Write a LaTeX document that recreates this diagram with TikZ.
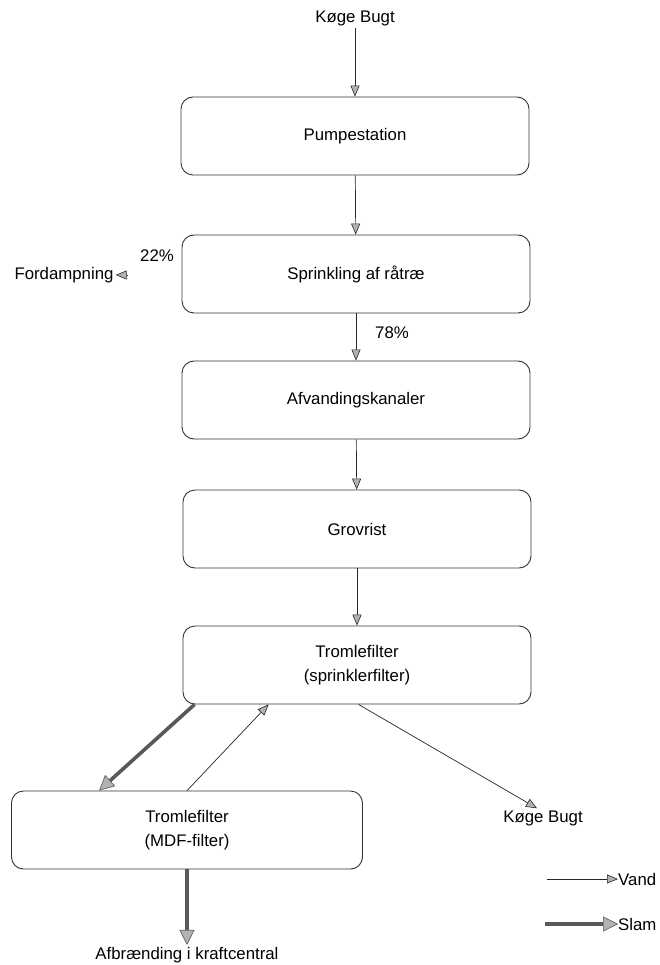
\documentclass[tikz,border=0pt]{standalone}
\usepackage{fontspec}
\setmainfont{Liberation Sans}
\usetikzlibrary{arrows.meta}
\begin{document}
\begin{tikzpicture}[x=1pt,y=-1pt,
  stage/.style={draw=black!80, line width=0.9pt, rounded corners=12pt,
    minimum width=348pt, minimum height=78pt, align=center,
    font=\fontsize{16.8}{24}\selectfont},
  lbl/.style={inner sep=2pt, font=\fontsize{16.8}{19}\selectfont},
  water/.style={draw=black!85, line width=0.7pt,
    -{Triangle[length=11pt,width=9pt,fill=gray!60,line width=0.6pt]}},
  sludge/.style={draw=black!65, line width=3.6pt,
    -{Triangle[length=15pt,width=15pt,fill=gray!60,line width=0.6pt]}}]
\useasboundingbox (0,0) rectangle (660,965);

% process stages
\node[stage] (pump)   at (355,136) {Pumpestation};
\node[stage] (spr)    at (356,274) {Sprinkling af råtræ};
\node[stage] (afv)    at (356,400) {Afvandingskanaler};
\node[stage] (grov)   at (357,529) {Grovrist};
\node[stage] (trom)   at (357,665) {Tromlefilter\\(sprinklerfilter)};
\node[stage, minimum width=351pt] (mdf) at (187,830) {Tromlefilter\\(MDF-filter)};

% sources and sinks
\node[lbl] (kogein)  at (355,18)  {Køge Bugt};
\node[lbl] (kogeout) at (543,818) {Køge Bugt};
\node[lbl] (ford)    at (64,275)  {Fordampning};
\node[lbl] (afb)     at (187,955) {Afbrænding i kraftcentral};
\node[lbl] at (157,256) {22\%};
\node[lbl] at (392,333) {78\%};

% water flow
\draw[water] (kogein) -- (pump);
\draw[water] (pump) -- (spr);
\draw[water] (spr) -- (afv);
\draw[water] (afv) -- (grov);
\draw[water] (grov) -- (trom);
\coordinate (fordtip) at ([xshift=11pt]ford.east);
\draw[water] (fordtip) -- (ford.east);
\draw[water] ([xshift=176pt]mdf.north west) -- ([xshift=86pt]trom.south west);
\draw[water] ([xshift=176pt]trom.south west) -- ([xshift=-6pt]kogeout.north);

% sludge flow
\draw[sludge] ([xshift=12pt]trom.south west) -- ([xshift=88pt]mdf.north west);
\draw[sludge] (mdf.south) -- (afb.north);

% legend
\coordinate (lv0) at (547,879);
\coordinate (lv1) at (618,879);
\coordinate (ls0) at (545,924);
\coordinate (ls1) at (618,924);
\draw[water] (lv0) -- (lv1);
\node[lbl, anchor=west, inner sep=0pt] (vand) at (lv1) {Vand};
\draw[sludge] (ls0) -- (ls1);
\node[lbl, anchor=west, inner sep=0pt] (slam) at (ls1) {Slam};
\end{tikzpicture}
\end{document}
